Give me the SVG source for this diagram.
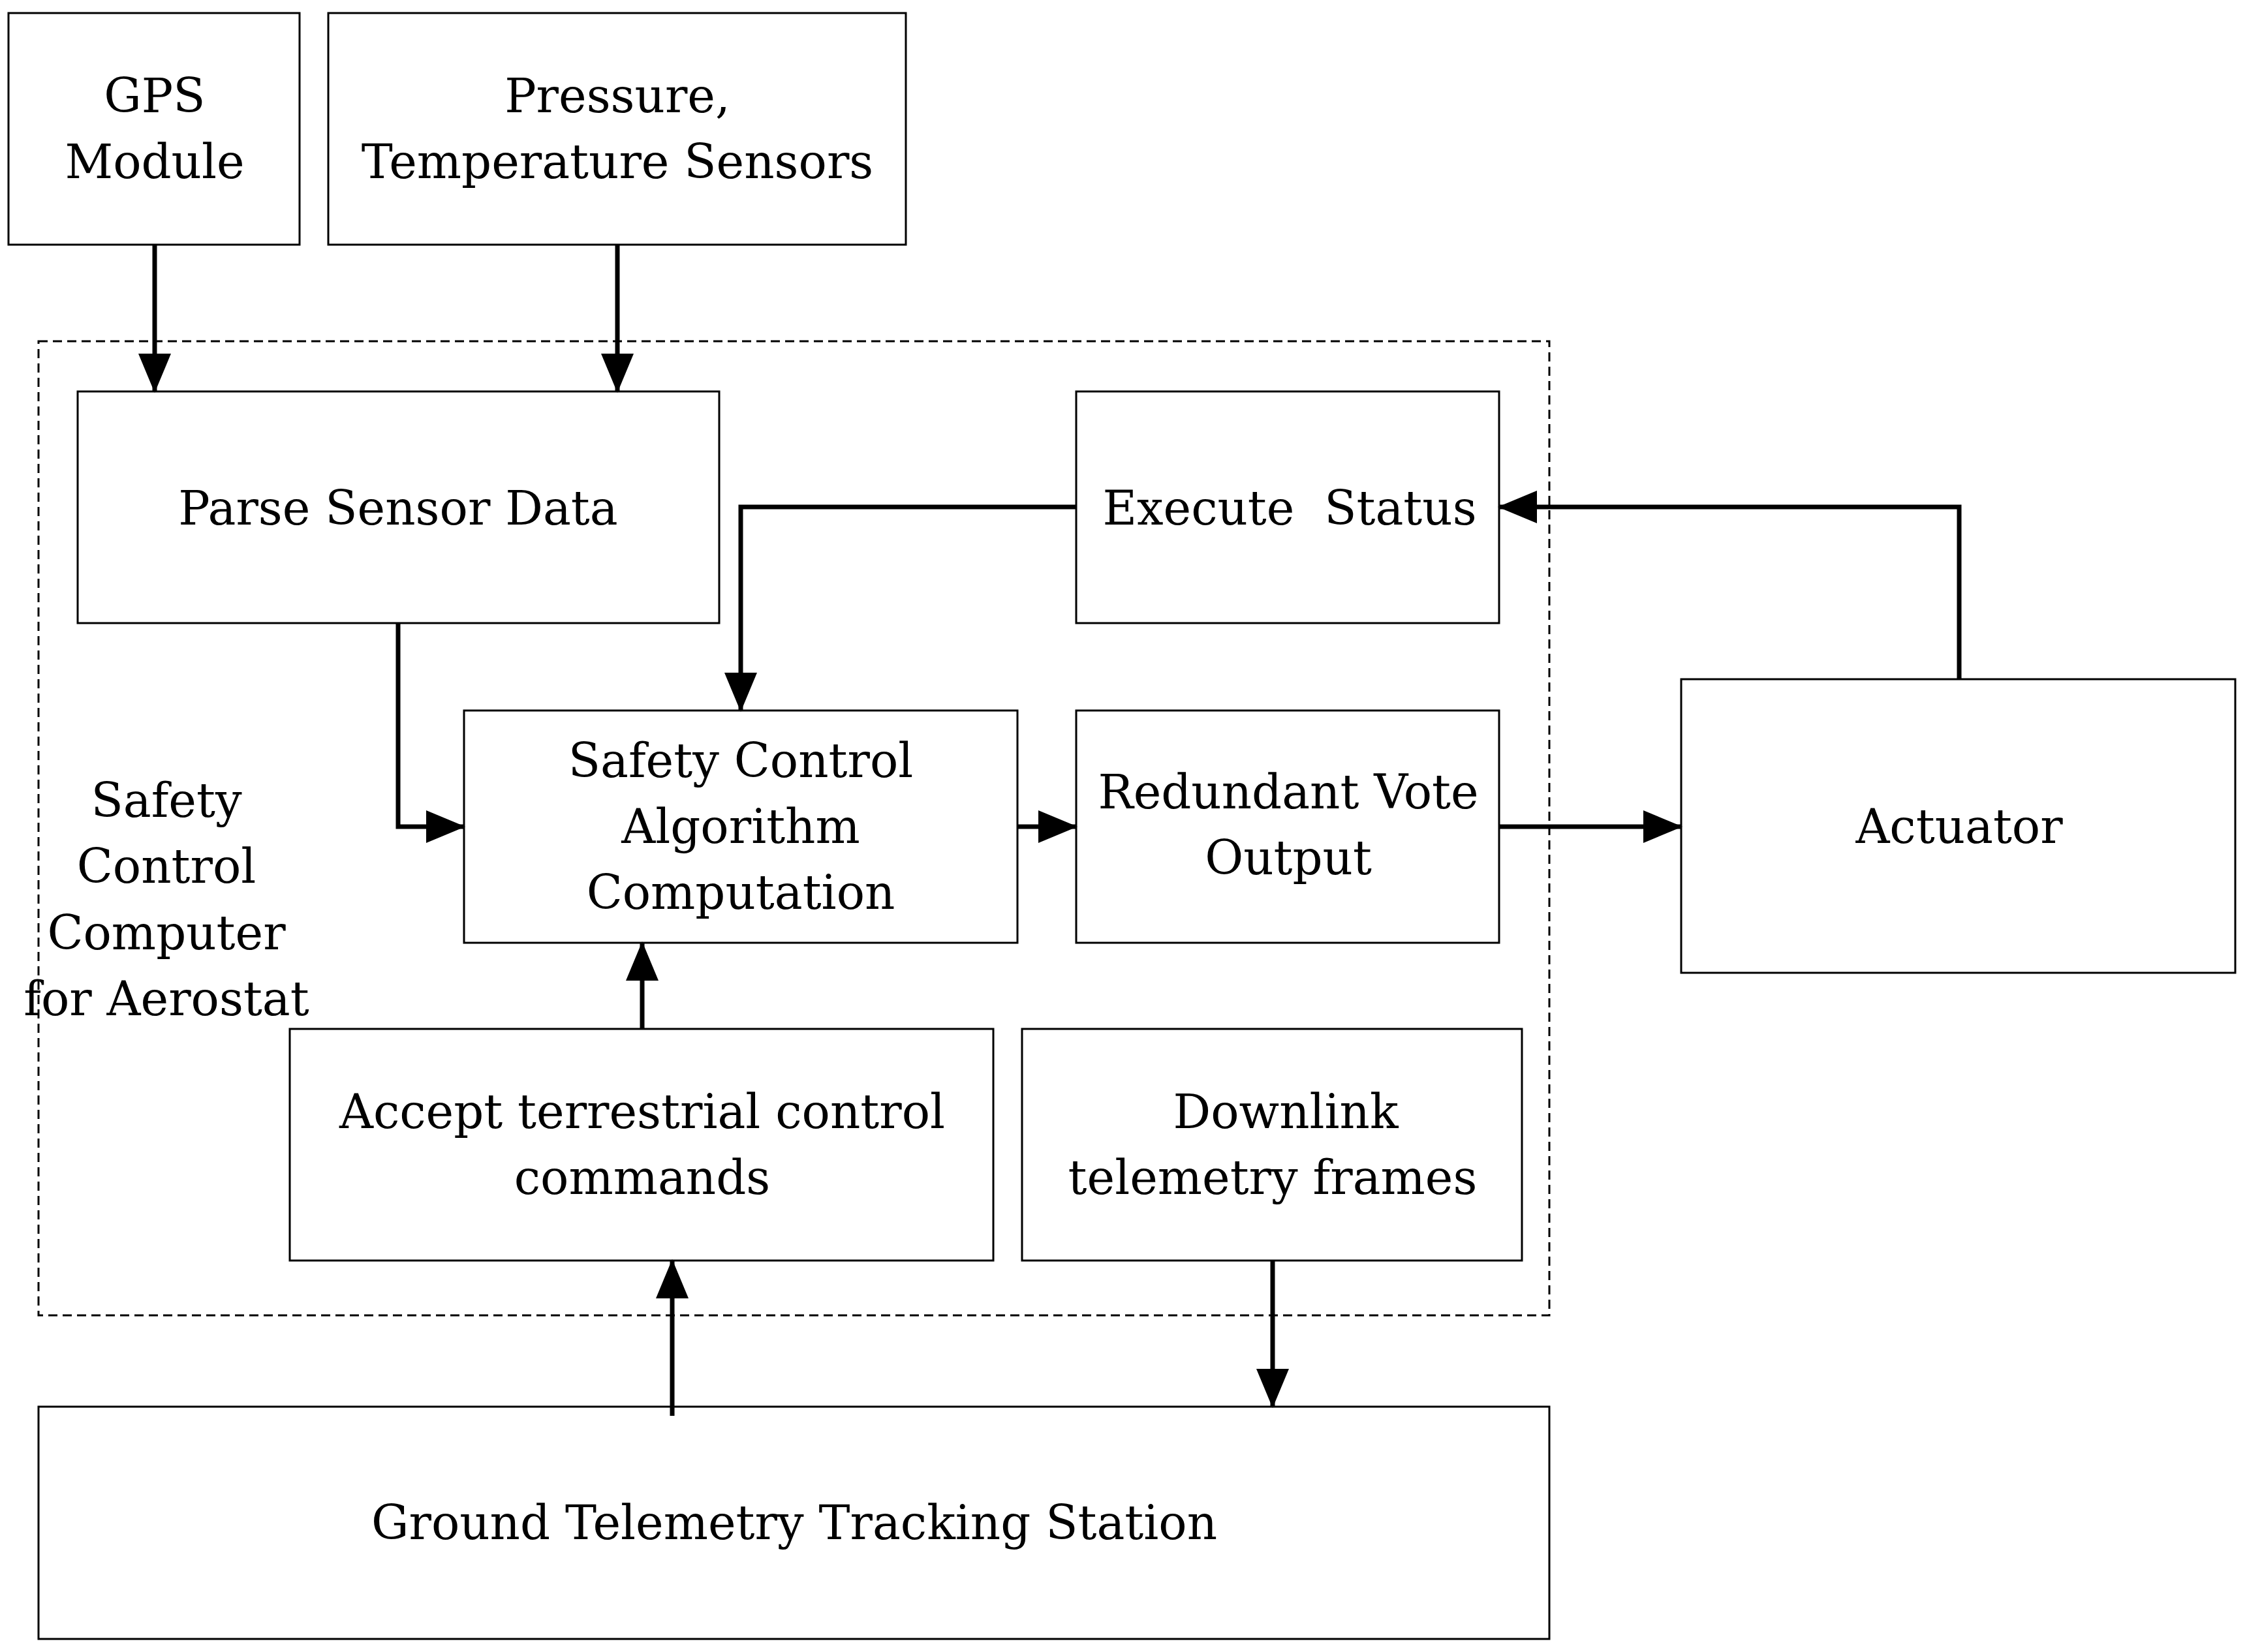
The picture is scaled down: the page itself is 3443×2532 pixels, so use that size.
<svg xmlns="http://www.w3.org/2000/svg" width="3443" height="2532" viewBox="0 0 3443 2532">
<style>
.b{fill:#fff;stroke:#000;stroke-width:3}
.t{font-family:"DejaVu Serif","Liberation Serif",serif;font-size:72px;text-anchor:middle;fill:#000}
.c{fill:none;stroke:#000;stroke-width:7}
</style>
<defs>
<marker id="a" markerUnits="userSpaceOnUse" markerWidth="60" markerHeight="50" refX="58" refY="25" orient="auto" viewBox="0 0 60 50">
<path d="M0,0 L60,25 L0,50 Z" fill="#000"/>
</marker>
</defs>
<rect width="3443" height="2532" fill="#fff"/>
<rect x="59" y="523" width="2315" height="1493" fill="none" stroke="#000" stroke-width="3" stroke-dasharray="14,8"/>
<g id="gps"><rect class="b" x="13" y="20" width="446" height="355"/><text class="t" x="237" y="172">GPS</text><text class="t" x="237" y="273">Module</text></g>
<g id="pressure"><rect class="b" x="503" y="20" width="885" height="355"/><text class="t" x="946" y="172">Pressure,</text><text class="t" x="946" y="273">Temperature Sensors</text></g>
<g id="parse"><rect class="b" x="119" y="600" width="983" height="355"/><text class="t" x="610" y="804">Parse Sensor Data</text></g>
<g id="execute"><rect class="b" x="1649" y="600" width="648" height="355"/><text class="t" x="1976" y="804" xml:space="preserve">Execute  Status</text></g>
<g id="algo"><rect class="b" x="711" y="1089" width="848" height="356"/><text class="t" x="1135" y="1191">Safety Control</text><text class="t" x="1135" y="1292">Algorithm</text><text class="t" x="1135" y="1393">Computation</text></g>
<g id="vote"><rect class="b" x="1649" y="1089" width="648" height="356"/><text class="t" x="1974" y="1239">Redundant Vote</text><text class="t" x="1974" y="1340">Output</text></g>
<g id="actuator"><rect class="b" x="2576" y="1041" width="849" height="450"/><text class="t" x="3002" y="1292">Actuator</text></g>
<g id="label"><text class="t" x="255" y="1252">Safety</text><text class="t" x="255" y="1353">Control</text><text class="t" x="255" y="1455">Computer</text><text class="t" x="255" y="1556">for Aerostat</text></g>
<g id="accept"><rect class="b" x="444" y="1577" width="1078" height="355"/><text class="t" x="984" y="1729">Accept terrestrial control</text><text class="t" x="984" y="1830">commands</text></g>
<g id="downlink"><rect class="b" x="1566" y="1577" width="766" height="355"/><text class="t" x="1970" y="1729">Downlink</text><text class="t" x="1950" y="1830">telemetry frames</text></g>
<g id="ground"><rect class="b" x="59" y="2156" width="2315" height="356"/><text class="t" x="1217" y="2359">Ground Telemetry Tracking Station</text></g>
<g id="connectors">
<path class="c" d="M237,375 V600" marker-end="url(#a)"/>
<path class="c" d="M946,375 V600" marker-end="url(#a)"/>
<path class="c" d="M610,955 V1267 H711" marker-end="url(#a)"/>
<path class="c" d="M1649,777 H1135 V1089" marker-end="url(#a)"/>
<path class="c" d="M3002,1041 V777 H2297" marker-end="url(#a)"/>
<path class="c" d="M1559,1267 H1649" marker-end="url(#a)"/>
<path class="c" d="M2297,1267 H2576" marker-end="url(#a)"/>
<path class="c" d="M984,1577 V1445" marker-end="url(#a)"/>
<path class="c" d="M1030,2170 V1932" marker-end="url(#a)"/>
<path class="c" d="M1950,1932 V2156" marker-end="url(#a)"/>
</g>
</svg>
